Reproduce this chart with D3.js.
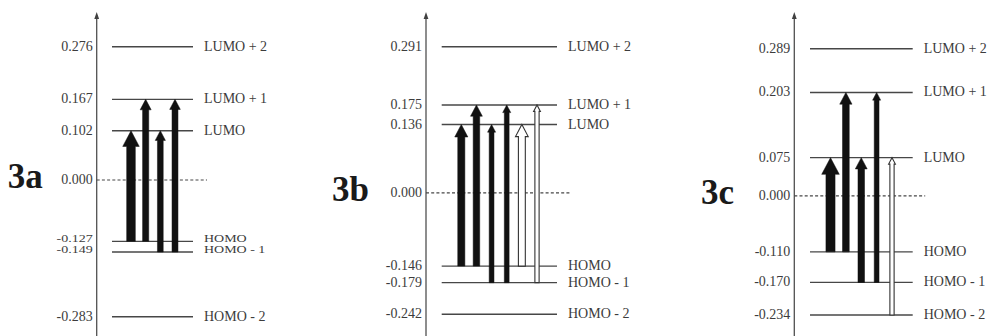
<!DOCTYPE html>
<html>
<head>
<meta charset="utf-8">
<script src="https://cdn.jsdelivr.net/npm/d3@7"></script>
<style>
  html, body { margin: 0; padding: 0; background: #fff; }
  svg { display: block; }
  .axis-line { stroke: #505050; stroke-width: 1.3; fill: none; }
  .axis-head { fill: #404040; }
  .level-line { stroke: #474747; stroke-width: 1.4; }
  .zero-line { stroke: #474747; stroke-width: 1.2; stroke-dasharray: 3 2.2; }
  .tick-label, .level-label { font-family: "Liberation Serif", "Times New Roman", serif; font-size: 14px; fill: #3c3c3c; }
  .panel-label { font-family: "Liberation Serif", "Times New Roman", serif; font-weight: bold; font-size: 35px; fill: #1a1a1a; }
  .arrow--filled { fill: #111; stroke: #111; stroke-width: 0.5; }
  .arrow--open { fill: #fff; stroke: #333; stroke-width: 1.1; }
</style>
</head>
<body>
<div id="chart"></div>
<script>
const levelNames = ["LUMO + 2", "LUMO + 1", "LUMO", "HOMO", "HOMO - 1", "HOMO - 2"];

const energies3a = [0.276, 0.167, 0.102, -0.127, -0.149, -0.283];
const energies3b = [0.291, 0.175, 0.136, -0.146, -0.179, -0.242];
const energies3c = [0.289, 0.203, 0.075, -0.110, -0.170, -0.234];

// transitions: [from, to, relative weight, open arrow]
const transitions3a = [
  ["HOMO", "LUMO", 0.9, false],
  ["HOMO", "LUMO + 1", 0.64, false],
  ["HOMO - 1", "LUMO", 0.6, false],
  ["HOMO - 1", "LUMO + 1", 0.62, false],
];
const transitions3b = [
  ["HOMO", "LUMO", 0.74, false],
  ["HOMO", "LUMO + 1", 0.68, false],
  ["HOMO - 1", "LUMO", 0.5, false],
  ["HOMO - 1", "LUMO + 1", 0.5, false],
  ["HOMO", "LUMO", 0.72, true],
  ["HOMO - 1", "LUMO + 1", 0.44, true],
];
const transitions3c = [
  ["HOMO", "LUMO", 0.95, false],
  ["HOMO", "LUMO + 1", 0.7, false],
  ["HOMO - 1", "LUMO", 0.68, false],
  ["HOMO - 1", "LUMO + 1", 0.5, false],
  ["HOMO - 2", "LUMO", 0.44, true],
];

const width = 995;
const height = 336;

const fmt = d3.formatLocale({
  decimal: ".", thousands: ",", grouping: [3], currency: ["", ""], minus: "-",
}).format(".3f");

class EnergyDiagram {
  constructor({ svg, name, energies, transitions, axisX, yTop, yBottom, lineSpan, slotSpan, labelOffset, dashExtra }) {
    this.svg = svg;
    this.name = name;
    this.levels = levelNames.map((n, i) => ({ name: n, e: energies[i] }));
    this.transitions = transitions.map(([from, to, weight, open], i) => ({
      from: energies[levelNames.indexOf(from)],
      to: energies[levelNames.indexOf(to)],
      weight, open, i,
    }));
    this.axisX = axisX;
    this.yTop = yTop;
    this.yBottom = yBottom;
    this.lineSpan = lineSpan;
    this.slotSpan = slotSpan;
    this.labelOffset = labelOffset;
    this.dashExtra = dashExtra;
    this.setup();
    this.render();
  }

  setup() {
    const ext = d3.extent(this.levels, (d) => d.e);
    this.y = d3.scaleLinear().domain(ext).range([this.yBottom, this.yTop]);
    this.slot = d3
      .scaleLinear()
      .domain([0, this.transitions.length - 1])
      .range(this.slotSpan.map((o) => this.axisX + o));
    this.shaft = d3.scaleLinear().domain([0, 1]).range([0, 9.6]);
    this.x0 = this.axisX + this.lineSpan[0];
    this.x1 = this.axisX + this.lineSpan[1];
    this.g = this.svg.append("g").attr("class", "panel");
  }

  arrowPath(d) {
    const w = this.shaft(d.weight);
    const hw = w * 2.2 - 2.5;
    const hl = hw * 0.95;
    const x = this.slot(d.i);
    const y0 = this.y(d.from);
    const y1 = this.y(d.to);
    return (
      d3.line()([
        [x - w / 2, y0],
        [x - w / 2, y1 + hl],
        [x - hw / 2, y1 + hl],
        [x, y1],
        [x + hw / 2, y1 + hl],
        [x + w / 2, y1 + hl],
        [x + w / 2, y0],
      ]) + "Z"
    );
  }

  render() {
    const g = this.g;
    const ax = this.axisX;

    // vertical energy axis
    g.append("line")
      .attr("class", "axis-line")
      .attr("x1", ax).attr("x2", ax)
      .attr("y1", 15).attr("y2", height);
    g.append("path")
      .attr("class", "axis-head")
      .attr("d", d3.line()([[ax, 12], [ax - 2.4, 19], [ax + 2.4, 19]]) + "Z");

    // zero reference
    const y0 = this.y(0);
    g.append("line")
      .attr("class", "zero-line")
      .attr("x1", ax).attr("x2", this.x1 + this.dashExtra)
      .attr("y1", y0).attr("y2", y0);
    g.append("text")
      .attr("class", "tick-label")
      .attr("x", ax - 4).attr("y", y0 + 4)
      .attr("text-anchor", "end")
      .text(fmt(0));

    // label squeeze for crowded levels
    const sorted = this.levels.slice().sort((a, b) => b.e - a.e);
    sorted.forEach((d, i) => {
      const gaps = [];
      if (i > 0) gaps.push(this.y(d.e) - this.y(sorted[i - 1].e));
      if (i < sorted.length - 1) gaps.push(this.y(sorted[i + 1].e) - this.y(d.e));
      d.k = Math.min(1, d3.min(gaps) / 13.5);
      d.shift = d.k < 1 ? -2 : 0;
    });

    const lv = g.selectAll(".level").data(this.levels).join("g").attr("class", "level");
    lv.append("line")
      .attr("class", "level-line")
      .attr("x1", this.x0).attr("x2", this.x1)
      .attr("y1", (d) => this.y(d.e)).attr("y2", (d) => this.y(d.e));
    lv.append("text")
      .attr("class", "tick-label")
      .attr("text-anchor", "end")
      .attr("transform", (d) => `translate(${ax - 4},${this.y(d.e) + d.shift + 4 * d.k}) scale(1,${d.k})`)
      .text((d) => fmt(d.e));
    lv.append("text")
      .attr("class", "level-label")
      .attr("transform", (d) => `translate(${this.x1 + 11},${this.y(d.e) + d.shift + 4 * d.k}) scale(1,${d.k})`)
      .text((d) => d.name);

    // excitation arrows
    g.selectAll(".arrow")
      .data(this.transitions)
      .join("path")
      .attr("class", (d) => "arrow " + (d.open ? "arrow--open" : "arrow--filled"))
      .attr("d", (d) => this.arrowPath(d));

    g.append("text")
      .attr("class", "panel-label")
      .attr("x", ax - this.labelOffset)
      .attr("y", y0 + 8)
      .text(this.name);
  }
}

const svg = d3.select("#chart").append("svg").attr("width", width).attr("height", height);

new EnergyDiagram({
  svg, name: "3a", energies: energies3a, transitions: transitions3a,
  axisX: 96.7, yTop: 46.7, yBottom: 316.7,
  lineSpan: [15.3, 96.3], slotSpan: [34.3, 78.3], labelOffset: 89, dashExtra: 14,
});
new EnergyDiagram({
  svg, name: "3b", energies: energies3b, transitions: transitions3b,
  axisX: 426, yTop: 46.7, yBottom: 314.3,
  lineSpan: [15.7, 131], slotSpan: [35.3, 111], labelOffset: 94, dashExtra: 14,
});
new EnergyDiagram({
  svg, name: "3c", energies: energies3c, transitions: transitions3c,
  axisX: 794.3, yTop: 48.7, yBottom: 315,
  lineSpan: [15.7, 118.4], slotSpan: [36.2, 97.7], labelOffset: 93.3, dashExtra: 12.5,
});
</script>
</body>
</html>
